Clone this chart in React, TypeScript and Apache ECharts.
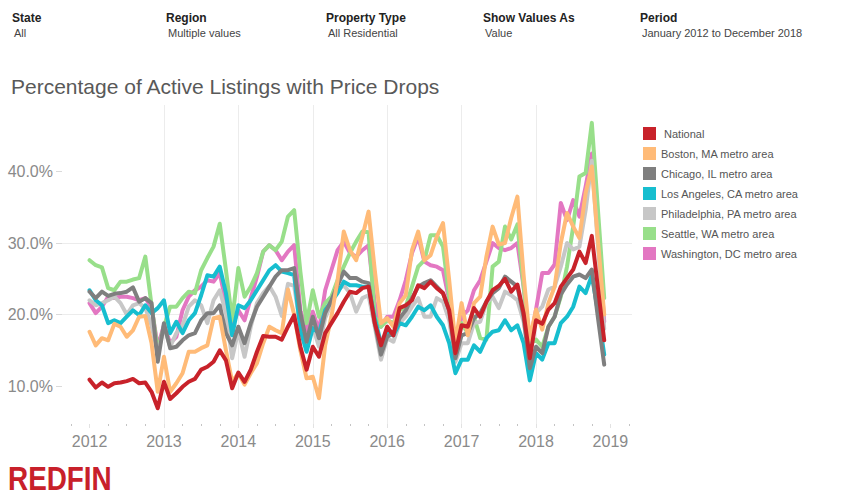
import React, { useEffect, useRef } from "react";
import * as echarts from "echarts";

// Monthly share of active listings with a price drop, Jan 2012 – Dec 2018 (percent)
const startYear = 2012;
const yearTicks = [2012, 2013, 2014, 2015, 2016, 2017, 2018, 2019];
const percentTicks = [10, 20, 30, 40];

const seriesNames = [
  "National",
  "Boston, MA metro area",
  "Chicago, IL metro area",
  "Los Angeles, CA metro area",
  "Philadelphia, PA metro area",
  "Seattle, WA metro area",
  "Washington, DC metro area",
];

const seriesColors = ["#c8222a", "#ffbb78", "#7f7f7f", "#17becf", "#c7c7c7", "#98df8a", "#e377c2"];

const national = [
  10.9, 9.8, 10.5, 9.9, 10.4, 10.5, 10.7, 11.0, 10.4, 10.5, 9.2, 6.9,
  10.6, 8.2, 9.0, 9.9, 10.6, 11.0, 12.3, 12.7, 13.4, 15.0, 13.6, 9.7,
  11.9, 10.6, 12.3, 14.8, 17.0, 16.9, 16.9, 16.5, 18.3, 19.9, 15.5, 12.3,
  15.5, 14.1, 17.4, 18.8, 20.2, 21.8, 23.2, 23.0, 23.7, 23.9, 18.8, 15.7,
  18.3, 17.1, 20.9, 21.3, 22.0, 24.1, 23.7, 24.6, 23.7, 23.0, 20.6, 14.6,
  18.5, 18.3, 20.9, 19.7, 21.8, 23.4, 24.0, 25.0, 23.2, 24.2, 20.2, 13.9,
  19.2, 18.7, 20.7, 21.6, 23.9, 25.1, 26.3, 28.8, 27.2, 31.0, 23.6, 16.4,
];

const boston = [
  17.6, 15.7, 16.7, 16.4, 18.7, 18.3, 16.9, 17.8, 19.7, 19.8, 16.0, 9.2,
  14.1, 9.2, 10.4, 11.8, 14.8, 14.8, 15.3, 15.7, 19.5, 19.7, 15.0, 10.6,
  11.8, 10.2, 11.8, 13.2, 16.0, 18.3, 17.8, 17.4, 23.5, 20.0, 15.0, 11.1,
  11.3, 8.3, 15.7, 19.7, 24.8, 31.6, 29.0, 27.6, 30.9, 34.4, 26.2, 18.8,
  19.5, 18.3, 21.6, 22.7, 29.0, 31.6, 27.6, 28.3, 30.9, 32.8, 24.8, 16.0,
  21.6, 17.1, 21.6, 22.5, 28.1, 32.3, 29.8, 30.0, 33.5, 36.5, 25.5, 16.5,
  20.7, 17.9, 21.6, 23.9, 30.0, 34.2, 32.3, 30.7, 37.0, 40.7, 30.2, 20.0,
];

const chicago = [
  23.2, 22.3, 23.2, 22.6, 22.9, 23.0, 23.2, 23.8, 21.8, 22.3, 21.6, 13.4,
  18.8, 15.3, 15.5, 16.4, 17.1, 17.4, 19.2, 20.2, 20.2, 21.3, 17.4, 15.7,
  18.3, 16.0, 18.8, 21.1, 22.5, 23.9, 25.3, 26.2, 26.2, 26.5, 20.2, 16.2,
  19.7, 16.7, 20.2, 22.0, 24.1, 26.0, 25.1, 25.1, 24.6, 24.4, 18.8, 14.4,
  16.9, 17.4, 19.5, 20.6, 22.3, 23.9, 24.4, 24.8, 23.9, 23.0, 20.6, 13.9,
  17.1, 17.4, 19.5, 20.2, 21.8, 23.0, 23.7, 25.3, 24.6, 23.9, 19.7, 12.5,
  15.5, 14.6, 18.3, 19.7, 22.8, 24.2, 25.3, 25.6, 25.1, 26.3, 19.5, 13.0,
];

const losAngeles = [
  23.4, 22.0, 21.3, 18.8, 19.2, 18.8, 19.7, 20.6, 19.9, 21.3, 20.2, 20.9,
  22.0, 17.4, 19.0, 17.4, 19.2, 20.2, 22.7, 25.5, 25.3, 26.7, 23.0, 17.1,
  21.3, 20.9, 22.0, 23.4, 24.8, 26.2, 26.9, 26.0, 25.8, 25.5, 17.8, 14.8,
  18.1, 17.4, 20.6, 21.8, 23.0, 24.6, 24.1, 24.1, 23.9, 23.9, 19.5, 16.0,
  17.4, 17.1, 18.8, 18.5, 19.7, 21.1, 20.6, 21.3, 19.7, 18.5, 16.0, 11.8,
  13.7, 13.7, 15.7, 14.8, 16.7, 17.6, 17.8, 19.2, 17.8, 18.5, 16.0, 10.8,
  14.6, 13.7, 16.0, 16.0, 18.8, 19.7, 21.1, 23.9, 23.0, 25.5, 20.3, 14.4,
];

const philadelphia = [
  22.0, 21.3, 21.6, 22.0, 22.5, 21.6, 20.0, 21.3, 21.6, 20.9, 18.5, 14.4,
  18.3, 15.5, 17.4, 18.5, 21.1, 22.0, 21.3, 18.8, 22.0, 23.4, 20.2, 13.9,
  17.8, 14.1, 18.3, 21.6, 23.0, 24.0, 22.5, 19.8, 24.3, 24.0, 18.3, 16.9,
  18.3, 15.5, 19.5, 21.6, 23.4, 24.1, 23.0, 20.4, 22.3, 22.7, 18.3, 13.7,
  16.7, 16.2, 18.8, 19.7, 21.1, 22.3, 19.7, 19.7, 22.3, 21.8, 19.2, 13.4,
  16.0, 16.0, 18.8, 19.0, 21.6, 22.5, 20.9, 23.2, 22.7, 22.0, 19.0, 13.5,
  20.2, 21.1, 23.5, 23.9, 26.7, 30.0, 29.1, 29.5, 34.6, 41.5, 29.5, 18.0,
];

const seattle = [
  27.6, 26.9, 26.6, 23.7, 23.4, 24.6, 24.6, 24.9, 25.1, 28.1, 21.3, 14.8,
  18.3, 21.1, 21.1, 22.3, 23.2, 23.0, 26.2, 27.9, 29.5, 32.7, 26.2, 19.2,
  26.5, 22.5, 23.9, 25.8, 28.8, 29.7, 29.0, 30.2, 33.7, 34.6, 26.0, 18.8,
  23.4, 19.7, 21.6, 22.5, 24.8, 26.7, 28.6, 30.2, 31.6, 31.5, 19.7, 18.3,
  19.2, 18.8, 20.6, 21.1, 23.9, 26.7, 27.6, 31.1, 31.1, 29.5, 22.5, 15.0,
  18.8, 17.4, 19.7, 16.7, 16.5, 26.7, 27.4, 32.3, 30.5, 32.6, 24.0, 16.0,
  16.5, 15.5, 18.3, 19.7, 22.5, 26.7, 32.3, 39.3, 39.8, 46.8, 34.5, 22.3,
];

const washington = [
  21.6, 20.2, 21.1, 22.5, 22.3, 22.5, 22.5, 22.3, 22.0, 22.3, 21.0, 15.5,
  18.5, 16.0, 16.9, 20.6, 22.5, 23.4, 23.9, 24.8, 24.6, 25.8, 21.6, 18.3,
  20.6, 19.2, 22.3, 25.3, 28.8, 29.7, 29.0, 27.6, 28.8, 29.7, 20.6, 17.8,
  20.4, 17.8, 23.4, 26.2, 29.0, 30.2, 28.6, 28.1, 29.0, 29.7, 21.6, 18.3,
  19.7, 19.7, 22.0, 24.8, 28.6, 30.9, 27.4, 26.9, 26.7, 26.2, 22.0, 16.0,
  19.7, 20.6, 23.4, 24.8, 27.4, 30.0, 29.3, 29.0, 29.3, 30.0, 23.9, 16.0,
  20.7, 25.8, 25.8, 27.0, 35.6, 33.2, 36.0, 33.7, 37.9, 42.5, 31.0, 19.0,
];

const seriesValues = [national, boston, chicago, losAngeles, philadelphia, seattle, washington];

// Filter bar shown above the chart
const filterLabels = ["State", "Region", "Property Type", "Show Values As", "Period"];
const filterValues = ["All", "Multiple values", "All Residential", "Value", "January 2012 to December 2018"];
const filterX = [12, 166, 326, 483, 640];

const FONT = '"Liberation Sans", Arial, Helvetica, sans-serif';

// month index -> fractional year on the value axis
const toPoints = (values: number[]) => values.map((v, i) => [startYear + i / 12, v]);

export default function App() {
  const ref = useRef<HTMLDivElement>(null);

  useEffect(() => {
    if (!ref.current) return;
    const chart = echarts.init(ref.current, undefined, { renderer: "svg" });

    // first legend entry is drawn last so it sits on top
    const drawOrder = [6, 5, 4, 3, 2, 1, 0];
    const series = drawOrder.map((idx, z) => ({
      name: seriesNames[idx],
      type: "line",
      data: toPoints(seriesValues[idx]),
      showSymbol: false,
      symbol: "none",
      z: 2 + z,
      silent: true,
      lineStyle: { width: 4, color: seriesColors[idx], cap: "round", join: "round" },
      itemStyle: { color: seriesColors[idx] },
      emphasis: { disabled: true },
    }));

    const graphic: any[] = [];
    filterLabels.forEach((label, i) => {
      graphic.push({
        type: "text",
        x: filterX[i],
        y: 18,
        style: {
          text: label,
          fontFamily: FONT,
          fontWeight: "bold",
          fontSize: 12,
          fill: "#222",
          verticalAlign: "middle",
        },
      });
      graphic.push({
        type: "text",
        x: filterX[i] + 2,
        y: 32.5,
        style: {
          text: filterValues[i],
          fontFamily: FONT,
          fontSize: 11,
          fill: "#444",
          verticalAlign: "middle",
        },
      });
    });
    graphic.push({
      type: "text",
      x: 11,
      y: 86.5,
      style: {
        text: "Percentage of Active Listings with Price Drops",
        fontFamily: FONT,
        fontSize: 21,
        fill: "#595959",
        verticalAlign: "middle",
      },
    });
    graphic.push({
      type: "text",
      x: 8,
      y: 478,
      scaleX: 0.845,
      style: {
        text: "REDFIN",
        fontFamily: FONT,
        fontWeight: "bold",
        fontSize: 33,
        fill: "#c8202a",
        verticalAlign: "middle",
      },
    });

    chart.setOption({
      animation: false,
      backgroundColor: "#ffffff",
      textStyle: { fontFamily: FONT },
      grid: { left: 62, right: 217, top: 105, bottom: 75, containLabel: false },
      legend: {
        orient: "vertical",
        left: 643,
        top: 127,
        padding: 0,
        itemWidth: 13,
        itemHeight: 13,
        itemGap: 7,
        icon: "rect",
        selectedMode: false,
        data: seriesNames,
        itemStyle: { borderWidth: 0 },
        textStyle: { fontFamily: FONT, fontSize: 11, color: "#555" },
        formatter: (name: string) => (name === "National" ? "\u00a0" + name : name),
      },
      xAxis: {
        type: "value",
        min: 2011.63,
        max: 2019.29,
        minInterval: 1,
        maxInterval: 1,
        axisLine: { show: false },
        axisTick: { show: true, length: 4, customValues: yearTicks, lineStyle: { color: "#e2e2e2" } },
        minorTick: { show: true, splitNumber: 4, length: 2, lineStyle: { color: "#c4c4c4" } },
        axisLabel: {
          customValues: yearTicks,
          formatter: (v: number) => String(Math.round(v)),
          fontFamily: FONT,
          fontSize: 16,
          color: "#8a8a8a",
          margin: 9,
        },
        splitLine: { show: true, showMinLine: false, showMaxLine: false, lineStyle: { color: "#ececec", width: 1 } },
      },
      yAxis: {
        type: "value",
        min: 4.7,
        max: 49.3,
        minInterval: 10,
        maxInterval: 10,
        axisLine: { show: false },
        axisTick: { show: true, length: 6, customValues: percentTicks, lineStyle: { color: "#dadada" } },
        axisLabel: {
          customValues: percentTicks,
          formatter: (v: number) => v.toFixed(1) + "%",
          fontFamily: FONT,
          fontSize: 16,
          color: "#8a8a8a",
          margin: 9,
        },
        splitLine: { show: true, showMinLine: false, showMaxLine: false, lineStyle: { color: "#ececec", width: 1 } },
      },
      graphic,
      series,
    });

    return () => chart.dispose();
  }, []);

  return (
    <div
      ref={ref}
      style={{ position: "fixed", left: 0, top: 0, width: 849, height: 499, background: "#fff" }}
    />
  );
}
